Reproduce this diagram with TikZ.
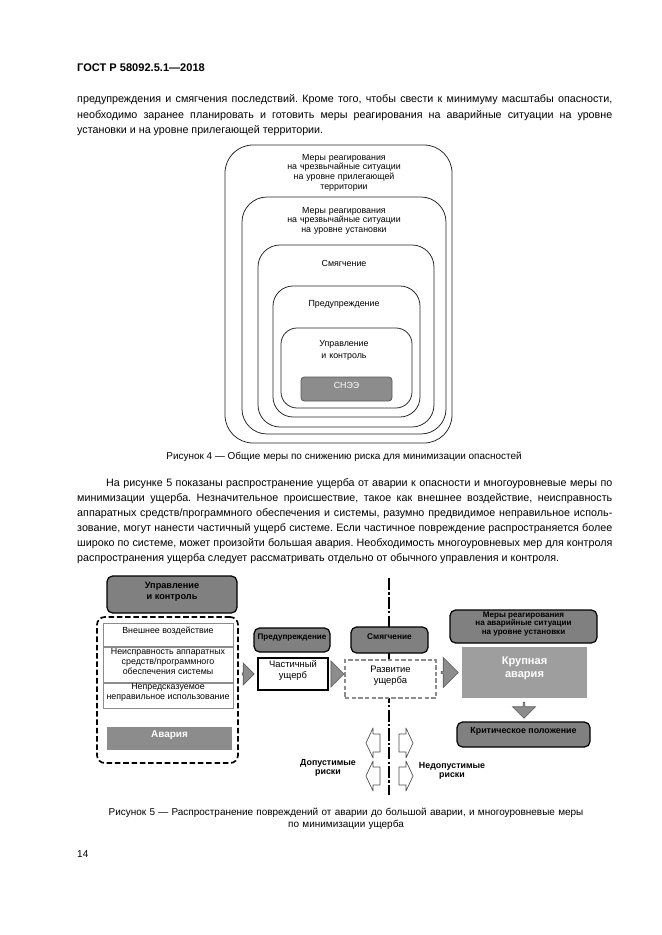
\documentclass[tikz,border=0pt]{standalone}
\usepackage{fontspec}
\setmainfont{Liberation Sans}
\usetikzlibrary{shapes.arrows,fit,calc}
\frenchspacing
\newcommand\px{0.3177mm}
\newcommand\fs[2]{\fontsize{#1}{#2}\selectfont}
\newcommand\szhat{\spaceskip=0.278em plus 0.25em minus 0.12em\relax}
\tikzset{
  tekst/.style={text width=170mm, align=justify, inner sep=0pt, anchor=base west, font=\fs{9.7}{13.6}},
  podpis/.style={align=center, inner sep=0pt, anchor=base, font=\fs{9}{11.7}},
  ramka/.style={draw=black!85, line width=0.7pt, rounded corners=#1},
  nadpis/.style={text width=60mm, align=center, inner sep=0pt, anchor=base, font=\fs{8}{9}},
  mera/.style={draw=black, line width=1.1pt, fill=black!50, rounded corners=5pt, inner sep=0pt, align=center, font=\bfseries\fs{7.5}{9}},
  sobyt/.style={draw=black!45, line width=0.9pt, fill=white, inner sep=0pt, align=center, font=\fs{8}{8.8}},
  avar/.style={fill=black!45, inner sep=0pt, align=center, text=white, font=\bfseries\fs{9}{10.8}},
  strelka/.style={single arrow, draw=black!65, fill=black!45, line width=0.6pt, inner sep=0pt, single arrow head extend=#1},
  polaya/.style={draw=black!70, fill=white, line width=0.6pt, line join=round},
}
\begin{document}
\begin{tikzpicture}[x=0.3177mm,y=-0.3177mm]
        %лист
            \useasboundingbox (0,0) rectangle (661,935);
            \fill [white] (0,0) rectangle (661,935);
        %шапка и текст
            \node [anchor=base west, inner sep=0pt, font=\bfseries\fs{10}{12}] (gost) at (77,72) {ГОСТ Р 58092.5.1—2018};
            \node [tekst] (abz1) at (77,103) {\szhat предупреждения и смягчения последствий. Кроме того, чтобы свести к минимуму масштабы опасности,\linebreak необходимо заранее планировать и готовить меры реагирования на аварийные ситуации на уровне\linebreak установки и на уровне прилегающей территории.};
        %рисунок 4
            \draw [ramka=28*\px] (225,145) rectangle (452,443);
            \draw [ramka=25*\px] (242,197) rectangle (446,434);
            \draw [ramka=22*\px] (258,245) rectangle (434,427);
            \draw [ramka=20*\px] (273,286) rectangle (420,417);
            \draw [ramka=16*\px] (281,328) rectangle (412,408);
            \node [nadpis] (t1) at (344,160) {Меры реагирования\\на чрезвычайные ситуации\\на уровне прилегающей\\территории};
            \node [nadpis] (t2) at (344,213) {Меры реагирования\\на чрезвычайные ситуации\\на уровне установки};
            \node [nadpis] (t3) at (344,266) {Смягчение};
            \node [nadpis] (t4) at (344,306) {Предупреждение};
            \node [nadpis, font=\fs{8}{11.5}] (t5) at (344,346) {Управление\\и контроль};
            \node [fill=black!45, draw=black!65, line width=0.7pt, rounded corners=3pt, inner sep=0pt, text=white, font=\fs{8}{9}, fit={(301,377) (392,401)}] (snee) {СНЭЭ};
            \node [podpis] (ris4) at (344,459) {Рисунок 4 — Общие меры по снижению риска для минимизации опасностей};
        %текст
            \node [tekst] (abz2) at (77,486) {\szhat\hspace*{9.2mm}На рисунке 5 показаны распространение ущерба от аварии к опасности и многоуровневые меры по\linebreak минимизации ущерба. Незначительное происшествие, такое как внешнее воздействие, неисправность\linebreak аппаратных средств/программного обеспечения и системы, разумно предвидимое неправильное исполь-\linebreak зование, могут нанести частичный ущерб системе. Если частичное повреждение распространяется более\linebreak широко по системе, может произойти большая авария. Необходимость многоуровневых мер для контроля\linebreak распространения ущерба следует рассматривать отдельно от обычного управления и контроля.};
        %рисунок 5, граница рисков
            \coordinate (g1) at (389,578);
            \coordinate (g2) at (389,795);
            \draw [line width=1.2pt, dash pattern=on 11pt off 2pt on 2pt off 2pt] (g1) -- (g2);
        %левая группа
            \node [mera, font=\bfseries\fs{8.3}{10}, fit={(107,576) (237,613)}] (upr) {Управление\\и контроль};
            \node [draw, line width=1.5pt, dash pattern=on 5pt off 2.5pt, rounded corners=7pt, inner sep=0pt, fit={(97,617) (238,763)}] (grp) {};
            \node [sobyt, fit={(103,623) (233,646)}] (vnesh) {Внешнее воздействие};
            \node [sobyt, fit={(103,647) (233,682)}] (neispr) {Неисправность аппаратных\\средств/программного\\обеспечения системы};
            \node [sobyt, fit={(103,683) (233,708)}] (nepr) {Непредсказуемое\\неправильное использование};
            \node [avar, fit={(107,727) (232,750)}] (avaria) {Авария};
        %меры и ущерб
            \node [mera, font=\bfseries\fs{7.3}{9}, fit={(254,628) (330,652)}] (predupr) {Предупреждение};
            \node [draw, line width=2.5pt, fill=white, inner sep=0pt, align=center, font=\fs{8.5}{10}, fit={(258,658) (328,690)}] (chast) {Частичный\\ущерб};
            \node [mera, fit={(351,627) (428,653)}] (smyag) {Смягчение};
            \node [draw=black!45, line width=1pt, dash pattern=on 4pt off 2pt, fill=white, inner sep=0pt, align=center, font=\fs{8.5}{10}, fit={(345,660) (436,698)}] (razv) {Развитие\\ущерба};
            \node [mera, font=\bfseries\fs{7.3}{7.8}, fit={(450,610) (597,643)}] (mery) {Меры реагирования\\на аварийные ситуации\\на уровне установки};
            \node [avar, fill=black!38, font=\bfseries\fs{10}{11.5}, fit={(462,647) (587,698)}] (krup) {Крупная\\авария};
            \node [mera, font=\bfseries\fs{8}{9}, fit={(457,722) (590,747)}] (krit) {Критическое положение};
        %стрелки
            \node [strelka=3.5*\px, minimum height=12*\px, minimum width=22*\px] (s1) at ($(grp.east|-chast.center)!0.5!(chast.west)$) {};
            \node [strelka=3.5*\px, minimum height=13*\px, minimum width=26*\px] (s2) at ($(chast.east)!0.5!(razv.west|-chast.east)$) {};
            \node [strelka=4*\px, minimum height=17*\px, minimum width=30*\px] (s3) at ($(razv.east|-krup.center)!0.5!(krup.west)$) {};
            \node [strelka=4*\px, minimum height=16*\px, minimum width=23*\px, shape border rotate=270] (s4) at ($(krup.south)!0.5!(krit.north)$) {};
        %допустимые и недопустимые риски
            \foreach \yy in {743,776} {
                \draw [polaya] (366,\yy) -- (373,\yy-15) -- (373,\yy-9) -- (380,\yy-9) -- (380,\yy+9) -- (373,\yy+9) -- (373,\yy+15) -- cycle;
                \draw [polaya] (413,\yy) -- (406,\yy-15) -- (406,\yy-9) -- (399,\yy-9) -- (399,\yy+9) -- (406,\yy+9) -- (406,\yy+15) -- cycle;
            }
            \node [nadpis, font=\bfseries\fs{8}{9}] (dop) at (328,765) {Допустимые\\риски};
            \node [nadpis, font=\bfseries\fs{8}{9}] (nedop) at (452,768) {Недопустимые\\риски};
            \node [podpis, text width=170mm] (ris5) at (346,815) {Рисунок 5 — Распространение повреждений от аварии до большой аварии, и многоуровневые меры\\по минимизации ущерба};
            \node [anchor=base west, inner sep=0pt, font=\fs{9}{11}] (stran) at (77,857) {14};
\end{tikzpicture}
\end{document}
